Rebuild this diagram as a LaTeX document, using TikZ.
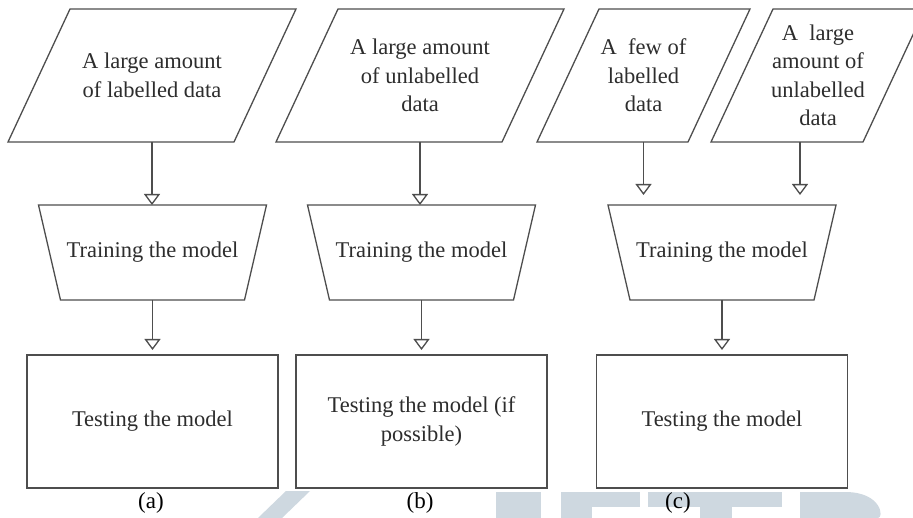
\documentclass[tikz,border=0pt]{standalone}
\usepackage{fontspec}
\setmainfont{Liberation Serif}
\usetikzlibrary{arrows.meta,calc}
\definecolor{edge}{RGB}{78,78,78}
\definecolor{txt}{RGB}{45,45,45}
\definecolor{wm}{RGB}{206,216,224}
\tikzset{
  lbl/.style={font=\fontsize{22.5}{28.5}\selectfont, align=center, inner sep=0pt, outer sep=0pt, text=txt},
  parabox/.style={lbl, minimum height=133pt, minimum width=#1},
  trapbox/.style={lbl, minimum height=95pt, minimum width=228pt},
  testbox/.style={lbl, draw=edge, line width=1.3pt, minimum height=133pt, minimum width=251pt},
  edgeline/.style={draw=edge, line width=1.3pt, line join=miter},
  arr/.style={draw=edge, line width=1.3pt, -{Triangle[open, width=16pt, length=11pt]}},
  caption/.style={font=\fontsize{23}{28}\selectfont, text=black, inner sep=0pt, outer sep=0pt},
}
\begin{document}
\begin{tikzpicture}[x=1pt,y=-1pt]
\useasboundingbox (0,0) rectangle (913,518);
\clip (0,0) rectangle (913,518);
\fill[white] (0,0) rectangle (913,518);
% faint watermark (partly visible at the bottom)
\fill[wm] (258,518) -- (282,518) -- (310,491) -- (286,491) -- cycle;
\fill[wm] (496,492) rectangle (541,518);
\fill[wm] (561,492) rectangle (640,507);
\fill[wm] (561,492) rectangle (592,518);
\fill[wm] (648,492) rectangle (782,507);
\fill[wm] (700,492) rectangle (732,518);
\fill[wm] (800,518) -- (800,492) -- (845,492) .. controls (882,492) and (884,518) .. (878,518) -- cycle;
% data parallelograms
\node[parabox=288pt] (pa) at (152,75.5) {A large amount\\of labelled data};
\node[parabox=288pt] (pb) at (420,75.5) {A large amount\\of unlabelled\\data};
\node[parabox=213pt] (pc1) at (643.5,75.5) {A\ \ few of\\labelled\\data};
\node[parabox=214pt] (pc2) at (818,75.5) {A\ \ large\\amount of\\unlabelled\\data};
\foreach \n in {pa,pb,pc1,pc2}{
  \draw[edgeline] (\n.south west) -- ($(\n.north west)+(62pt,0)$) -- (\n.north east) -- ($(\n.south east)-(62pt,0)$) -- cycle;
}
% training trapezoids
\node[trapbox] (ta) at (152.5,252.5) {Training the model};
\node[trapbox] (tb) at (421.5,252.5) {Training the model};
\node[trapbox] (tc) at (722,252.5) {Training the model};
\foreach \n in {ta,tb,tc}{
  \draw[edgeline] (\n.north west) -- (\n.north east) -- ($(\n.south east)-(22pt,0)$) -- ($(\n.south west)+(22pt,0)$) -- cycle;
}
% testing boxes
\node[testbox] (ba) at (152.5,421.5) {Testing the model};
\node[testbox] (bb) at (421.5,421.5) {Testing the model (if\\possible)};
\node[testbox] (bc) at (722,421.5) {Testing the model};
% connectors
\draw[arr] (pa.south) -- (pa.south |- ta.north);
\draw[arr] (pb.south) -- (pb.south |- tb.north);
\coordinate (c1end) at ($(pc1.south |- tc.north)+(0,10pt)$);
\draw[arr] (pc1.south) -- (c1end);
\coordinate (c2start) at ($(pc2.south)+(-18pt,0)$);
\draw[arr] (c2start) -- (c2start |- c1end);
\draw[arr] (ta.south) -- ($(ba.north)+(0,5pt)$);
\draw[arr] (tb.south) -- ($(bb.north)+(0,5pt)$);
\draw[arr] (tc.south) -- ($(bc.north)+(0,5pt)$);
% captions
\node[caption] (la) at (151,503) {(a)};
\node[caption] (lb) at (420,503) {(b)};
\node[caption] (lc) at (678,503) {(c)};
\end{tikzpicture}
\end{document}
